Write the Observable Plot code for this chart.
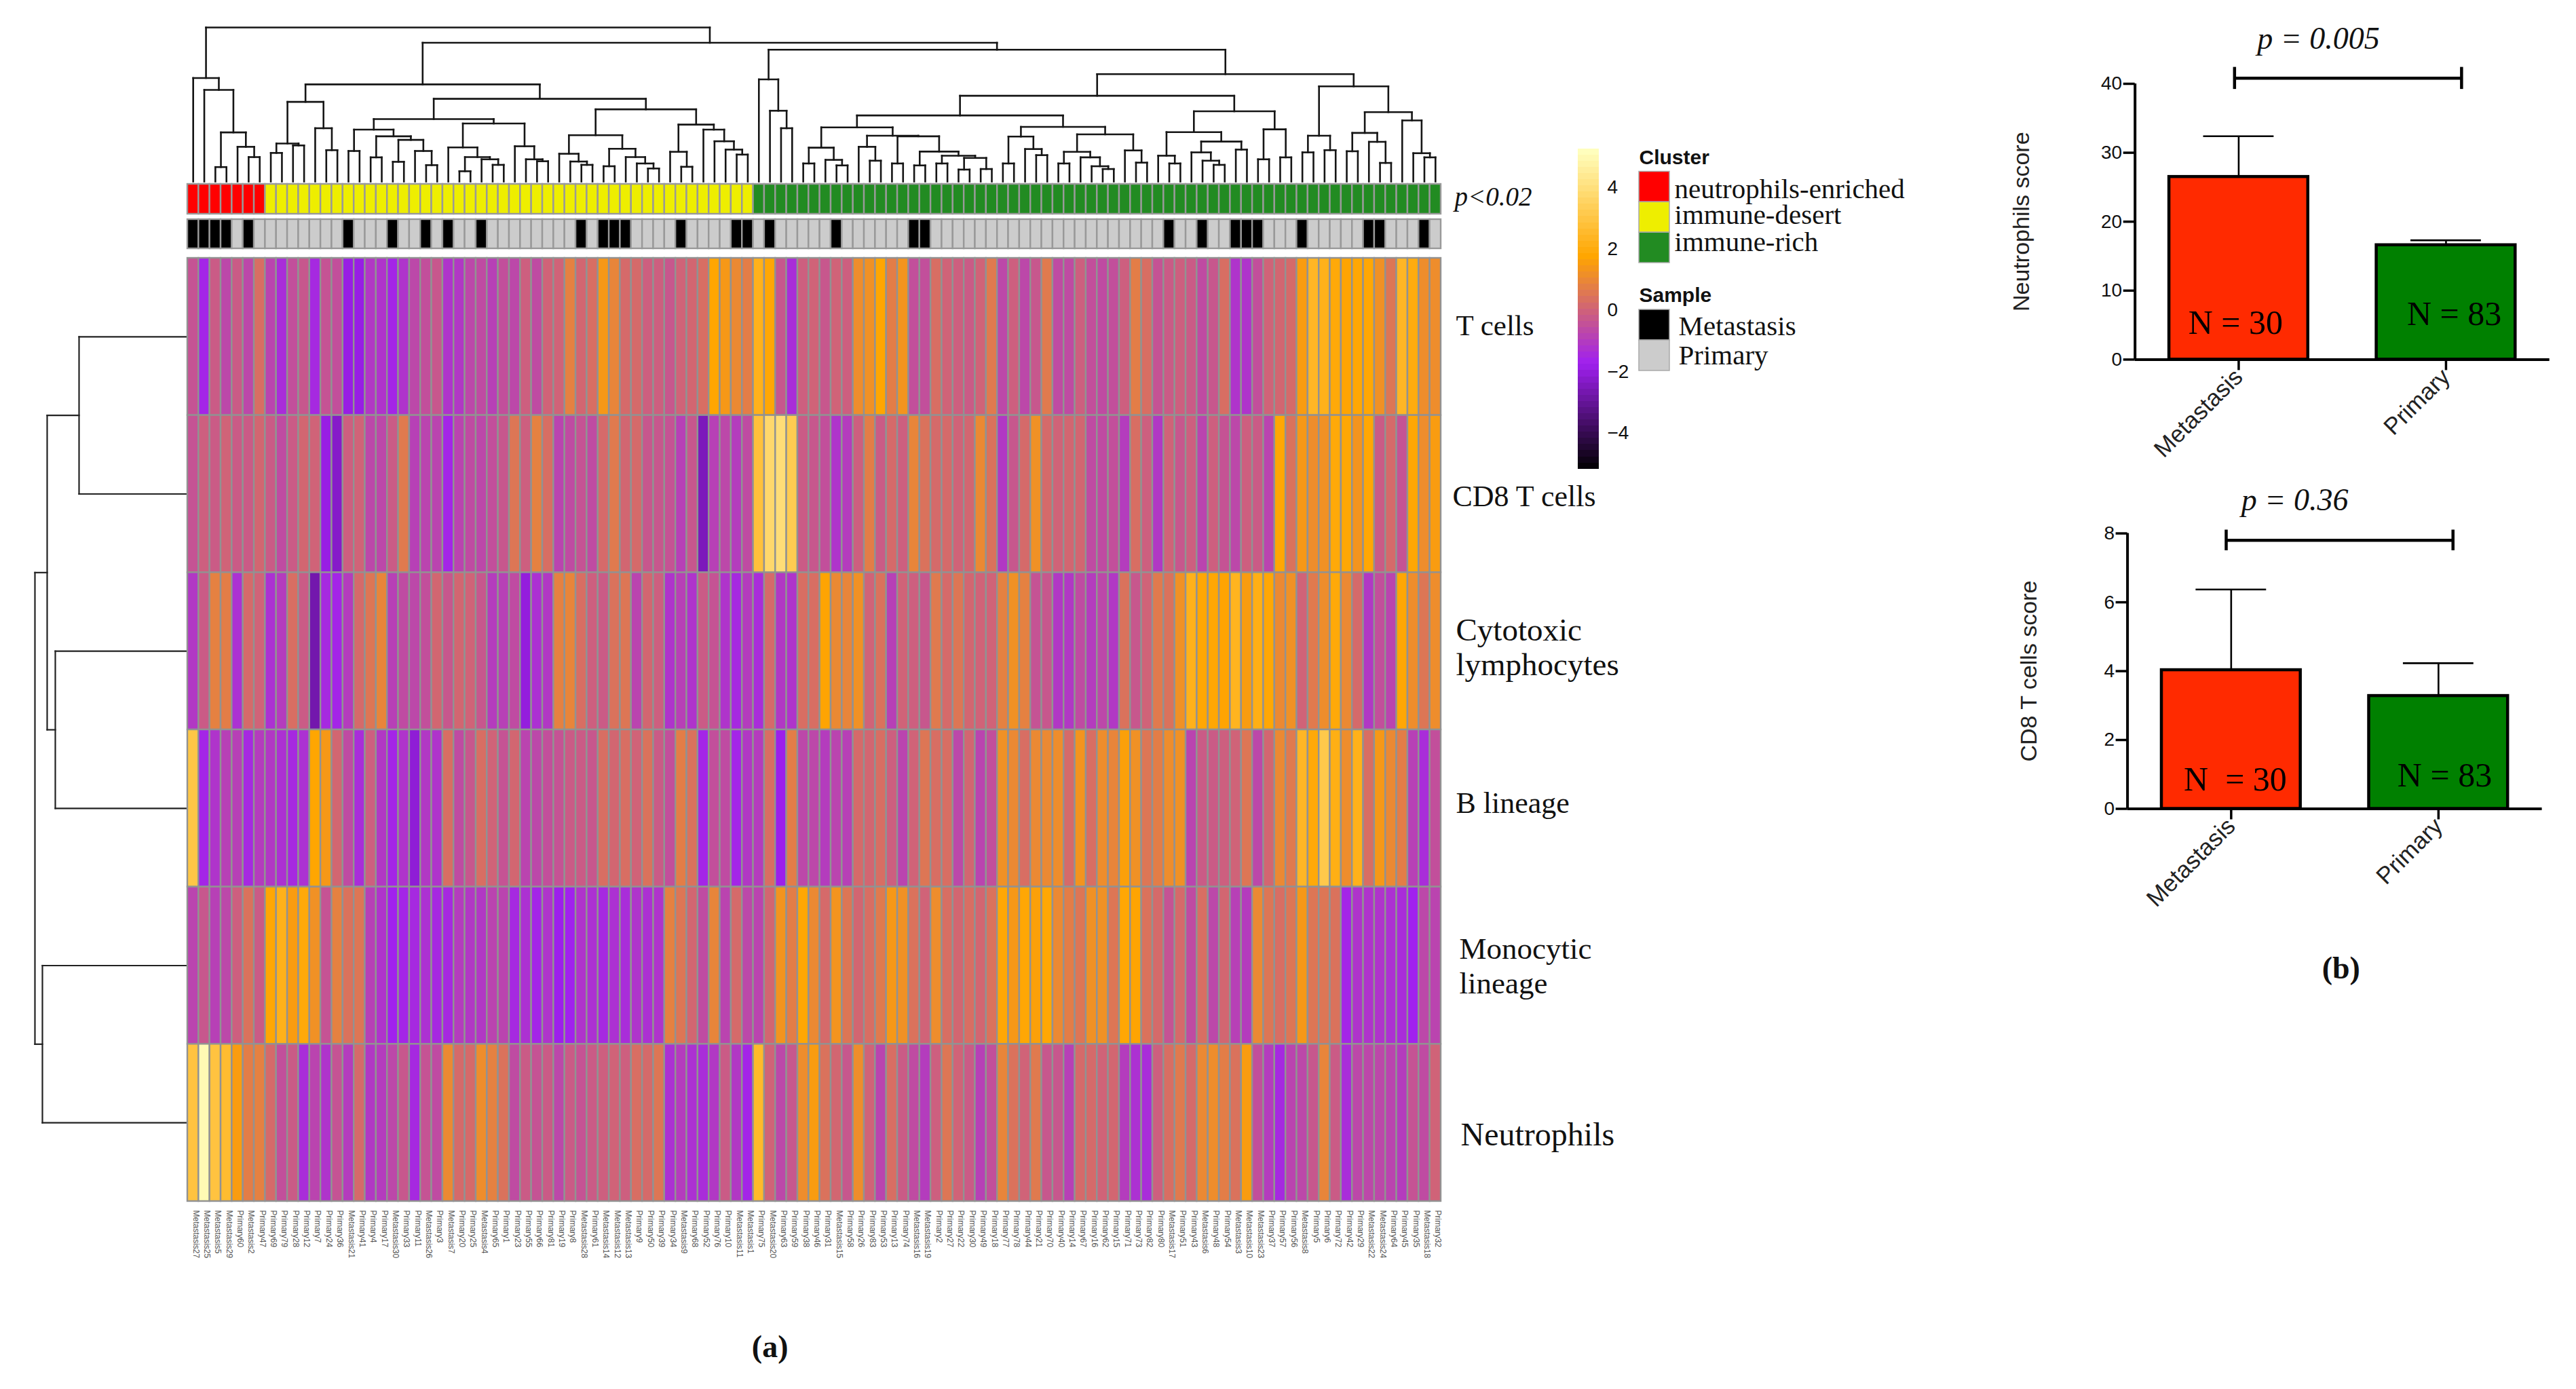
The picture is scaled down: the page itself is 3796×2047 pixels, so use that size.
<!DOCTYPE html>
<html>
<head>
<meta charset="utf-8">
<script src="https://cdn.jsdelivr.net/npm/d3@7"></script>
<script src="https://cdn.jsdelivr.net/npm/@observablehq/plot@0.6"></script>
<style>
html,body{margin:0;padding:0;background:#fff;}
#page{position:relative;width:3796px;height:2047px;overflow:hidden;background:#fff;}
#page svg{position:absolute;left:0;top:0;max-width:none;}
</style>
</head>
<body>
<div id="page"></div>
<script>
const rowNames = ["T cells","CD8 T cells","Cytotoxic lymphocytes","B lineage","Monocytic lineage","Neutrophils"];

const tCells = [-0.4,-1.6,-0.2,-0.7,-0.2,-0.7,0.3,-0.8,-1.4,-0.5,-0.3,-1.5,-0.4,-0.5,-1.9,-1.9,-1.1,-1.2,-1.6,-1.2,-0.7,-0.5,-0.3,-1.2,-1.1,-0.7,-0.6,-0.9,-0.5,-0.7,-0.1,-0.6,0,0,0.8,0.1,0.3,1.4,0.9,0.2,0.2,-0.1,-0.1,-0.3,0,0.1,0.3,1.75,1.4,1,0.7,2.2,1.8,-0.3,-1.4,-0.1,0,-0.3,0,-0.1,1.1,1.2,1.75,0.7,1.3,-0.5,-0.5,0.3,0,-0.1,-0.2,0,0.6,-0.7,-0.1,-0.7,-0.3,0.6,-0.6,-0.6,-0.1,-0.5,-0.6,-0.5,-0.1,0.7,0.3,-0.4,-0.2,-0.1,-0.2,-0.6,-0.3,0.3,-1.2,-1.2,-0.5,0,0.1,0.2,1.5,2.4,2.2,1.9,1.7,1.8,1.8,1.2,0.5,2.4,2,1.1,1.1];
const cd8TCells = [-0.4,-0.1,-0.2,0,-0.2,-0.2,0.1,-0.2,-0.6,-0.2,0.1,0,-1.9,-2.3,-0.1,0,-0.7,-0.7,-0.2,0.6,-0.9,-0.8,-0.8,-1.6,-0.8,-0.6,-0.7,-0.5,-0.3,0.5,-0.1,0.8,0.3,-0.8,-0.6,-0.4,-0.6,0.2,0.6,0.1,0.2,-0.3,-0.3,-0.4,-0.9,-0.3,-2.5,-0.9,-0.7,-1,-0.6,2.8,3.7,3.9,3.2,-0.2,-0.3,-0.5,-1.2,-1,-0.1,0.7,-0.2,0.2,-0.1,0.9,0.4,0.2,0.2,0,0.1,1,0.4,-1.1,-0.3,0.2,1.2,0.2,0,0.1,0.1,-0.6,-0.6,-0.5,-1,0.3,-0.1,-1.1,0,-0.3,-0.1,-0.8,-0.1,-0.4,-0.7,-0.1,-0.2,-0.8,1.8,0.4,1.4,1.1,1.2,1.9,1.8,1.3,1.8,-0.2,0.2,-0.4,1.8,1.1,1.5];
const cytotoxic = [-1.1,-0.2,0.8,0.7,-1.3,0.2,0,-1.3,-1,0.3,-0.2,-2.7,-1.5,-1.6,-1,0.2,0.5,0.9,-0.9,-0.6,-0.7,-0.5,0.1,-0.3,0.1,0,-0.3,-1,-0.9,-0.6,-2,-1.3,-1.1,0.8,0.9,0.3,-0.1,-0.2,0.4,0.5,-0.8,0.1,-0.1,-1.2,-0.9,-1.2,-0.2,-0.4,-1.2,-1.5,-1,-1.4,0.2,-1.1,-1.2,0.3,0.3,1.7,1,0.9,1.2,0,0.4,-0.9,0,-0.1,-0.3,0.6,0.2,0.5,0.1,0,0,0.8,1.2,0.8,-0.4,-0.3,-1.1,-1.1,-0.6,-1,-0.7,-1.1,0.4,-0.3,0,0.6,0.4,1.2,2.2,1.8,1.8,1.7,2.3,1.5,2.1,1.8,1,1.2,0,0.6,1.1,1.9,1,0.2,-1.1,-0.5,-0.8,1.8,1.1,0.5,1.1];
const bLineage = [3,-1.6,-1.2,-0.9,-0.9,-1.5,-1,-1.1,-1.3,-1.5,-1.3,1.75,1.4,0.1,-0.6,-1.4,-0.1,-1.1,-1.6,-1.2,-2.1,-1.1,-1.2,0.3,-0.6,-0.3,0.3,0,-0.4,0.1,-0.8,-0.7,-0.5,-0.4,-0.2,-0.2,-0.3,0.3,0.1,0.3,0,0.4,-0.2,-0.5,0.7,0.4,-1.6,-0.5,-0.6,-1.6,-1.1,-1,0.3,-1.8,0.7,-0.7,-0.7,-1,-0.8,-0.9,0.2,0.1,0.3,-0.1,-0.8,0,0.5,0.3,0.3,-0.7,0.1,-0.8,-0.5,1.2,1,0.3,1,1,1.1,0.2,1.3,0.3,1.1,0.9,1.6,1.2,0.5,0.7,1.1,1.2,-0.8,-0.2,-0.2,-0.1,0,0.5,-0.7,0.1,1,0.6,2.4,1.9,3.1,2.1,1.1,2.2,0.3,1.4,1,0.7,-0.9,-1.4,-0.5];
const monocytic = [-0.8,-0.3,-0.9,-0.7,-0.1,0.4,-0.2,1.8,2.2,1.5,1.9,1.2,-0.4,0.8,0.4,0.5,-0.9,-1.2,-1.7,-1.6,-1.5,-1.3,-1.5,-1.5,-1,-1.1,-1.1,-0.8,-0.8,-1.5,-1.3,-1.6,-1.2,-1.8,-1.7,-1.2,-1.3,-1.5,-1.3,-1.4,-1.2,-1.3,-1.2,0.8,0.5,0.1,-0.6,0.9,-0.8,0.2,-0.7,-0.8,0.1,1.3,0.7,1.8,1,0.2,1.3,0.5,0.1,0.3,0.6,1.4,1.2,0.4,0,1.1,0.3,0.1,0.3,0.1,0.4,1.8,1.4,1.8,1.6,1.8,1,0.7,0.5,1.2,1.2,0.5,1.8,1.7,0.4,0.2,-0.4,0.2,-0.6,0.3,-0.7,0.1,-0.9,-1,1,0.5,0.3,0.5,1.4,0.5,0.5,0.4,-1.6,-1.2,-1.2,-1.2,-1.3,-1.4,-1.7,-0.7,-0.8];
const neutrophils = [2.9,5,2.9,2.6,1.5,0.7,0.8,0.2,-0.5,-0.2,-1.4,-0.8,-1.2,-0.4,-1,0.2,-1.1,-1,-0.7,-0.3,-1.5,-0.4,-0.6,1,0.2,0.2,1.1,0.8,0.4,-0.6,-0.2,-0.4,-0.2,-0.7,-0.2,-0.4,-0.2,-0.1,0,-0.1,0.3,0.2,0.5,-1.3,-1,-1.3,-1.4,-1.1,-0.2,-1.1,-1.6,2.5,0,-0.7,-0.3,1.1,1.5,0.4,0.1,-0.3,1.1,0,-0.8,0.3,-0.2,-0.6,-1,-0.1,0.5,0,-0.2,-0.9,-0.5,0.9,0.4,0,0.6,-0.3,-0.3,-0.9,0.2,0.2,0,0.1,-1,-1.3,-1.4,-0.1,0.3,0.6,0.2,1,1.1,0.7,0.4,1.5,-0.5,-1,-1.5,-0.8,-0.7,-0.3,0.9,-0.2,-1.4,-0.7,-0.7,-0.7,-0.8,-1,-0.4,-0.6,0];

const sampleNames = ["Metastasis27","Metastasis25","Metastasis5","Metastasis29","Primary60","Metastasis2","Primary47","Primary69","Primary79","Primary28","Primary12","Primary7","Primary24","Primary36","Metastasis21","Primary41","Primary4","Primary17","Metastasis30","Primary33","Primary11","Metastasis26","Primary3","Metastasis7","Primary20","Primary25","Metastasis4","Primary65","Primary1","Primary23","Primary55","Primary66","Primary81","Primary19","Primary8","Metastasis28","Primary61","Metastasis14","Metastasis12","Metastasis13","Primary9","Primary50","Primary39","Primary34","Metastasis9","Primary68","Primary52","Primary76","Primary10","Metastasis11","Metastasis1","Primary75","Metastasis20","Primary63","Primary59","Primary38","Primary46","Primary31","Metastasis15","Primary58","Primary26","Primary83","Primary53","Primary13","Primary74","Metastasis16","Metastasis19","Primary2","Primary27","Primary22","Primary30","Primary49","Primary18","Primary77","Primary78","Primary44","Primary21","Primary70","Primary40","Primary14","Primary67","Primary16","Primary62","Primary15","Primary71","Primary73","Primary82","Primary80","Metastasis17","Primary51","Primary43","Metastasis6","Primary48","Primary54","Metastasis3","Metastasis10","Metastasis23","Primary37","Primary57","Primary56","Metastasis8","Primary5","Primary6","Primary72","Primary42","Primary29","Metastasis22","Metastasis24","Primary64","Primary45","Primary35","Metastasis18","Primary32"];

const clusterNames = ["neutrophils-enriched","immune-desert","immune-rich"];
const clusterColors = ["#ff0000","#eeee00","#228b22"];
const clusterSizes = [7,44,62];
const sampleTypes = ["Metastasis","Primary"];
const sampleColors = ["#000000","#cccccc"];

const heatDomain = [-5.2,-1.73,1.73,5.2];
const heatColors = ["#000000","#a020f0","#ffa500","#ffffbf"];
const legendTicks = [4,2,0,-2,-4];

// column tree: [height, left, right], a number is a column
const redTree = [373,0,[330,1,[177,[52,2,3],[125,4,[88,5,6]]]]];
const yellowTree = [350,
  [287,[137,[103,7,8],[130,9,10]],[192,11,[113,12,13]]],
  [298,
    [225,
      [187,[110,14,15],[163,[87,16,17],[150,[71,18,19],[110,20,[59,21,22]]]]],
      [209,[123,23,[88,[37,24,25],[80,26,[60,27,28]]]],[127,29,[80,30,[73,31,32]]]]],
    [260,
      [167,[100,33,[72,34,[60,35,36]]],[118,[55,37,38],[88,39,[65,40,[47,41,42]]]]],
      [205,[107,43,[53,44,45]],[187,46,[145,47,[115,48,[97,49,50]]]]]]]];
const greenTree = [475,
  [368,51,[255,52,[192,53,54]]],
  [387,
    [309,
      [238,
        [195,
          [122,[65,55,56],[78,57,[58,58,59]]],
          [165,[125,60,[75,61,62]],[163,[65,63,64],[108,[58,65,66],[93,[65,67,68],[85,[43,69,70],[45,71,72]]]]]]],
        [197,
          [162,[65,73,74],[117,75,[95,76,77]]],
          [170,[107,[65,78,79],[87,80,[55,81,[45,82,83]]]],[112,84,[68,85,86]]]]],
      [253,
        [178,[93,87,[65,88,89]],[144,[105,90,[75,91,[60,92,93]]],[115,94,95]]],
        [188,[80,96,97],[87,98,99]]]],
    [343,
      [165,[105,100,101],[113,102,103]],
      [250,[175,[109,104,105],[143,106,[67,107,108]]],[220,109,[102,110,[87,111,112]]]]]]];
const columnTree = [555,redTree,[500,yellowTree,greenTree]];
const rowTree = [224,[206,[159,0,1],[194,2,3]],[213,4,5]];

const barCategories = ["Metastasis","Primary"];
const barColors = ["#ff2a00","#008000"];
const neutrophilMeans = [26.5,16.6];
const neutrophilTops = [32.4,17.3];
const cd8Means = [4.03,3.28];
const cd8Tops = [6.37,4.23];

// ---------- shared ----------
const W = 3796, H = 2047;
const serif = "'Liberation Serif', serif";
const sans = "'Liberation Sans', Arial, sans-serif";
const ink = "#111";
const page = document.getElementById("page");
const frame = (l,t,r,b) => ({width:W,height:H,marginLeft:l,marginTop:t,marginRight:W-r,marginBottom:H-b,style:{background:"transparent"}});

function treeLinks(node){
  const links = [];
  (function walk(n){
    if (typeof n === "number") return {pos:n+0.5,h:0};
    const a = walk(n[1]), b = walk(n[2]), h = n[0];
    links.push({p1:a.pos,h1:a.h,p2:a.pos,h2:h});
    links.push({p1:b.pos,h1:b.h,p2:b.pos,h2:h});
    links.push({p1:a.pos,h1:h,p2:b.pos,h2:h});
    return {pos:(a.pos+b.pos)/2,h};
  })(node);
  return links;
}

const colIndex = d3.range(sampleNames.length);
const heatRows = [tCells,cd8TCells,cytotoxic,bLineage,monocytic,neutrophils];
const heatCells = heatRows.flatMap((vals,r)=>vals.map((v,c)=>({row:rowNames[r],col:c,value:v})));
const clusterOf = clusterSizes.flatMap((n,k)=>d3.range(n).map(()=>clusterNames[k]));

// ---------- column dendrogram ----------
page.append(Plot.plot({
  ...frame(276,40,2123,267),
  x:{domain:[0,113],axis:null},
  y:{domain:[0,555],axis:null},
  marks:[Plot.link(treeLinks(columnTree),{x1:"p1",y1:"h1",x2:"p2",y2:"h2",stroke:"#151515",strokeWidth:2.6,strokeLinecap:"square"})]
}));

// ---------- row dendrogram ----------
page.append(Plot.plot({
  ...frame(51,380,275,1770),
  x:{domain:[224,0],axis:null},
  y:{domain:[6,0],axis:null},
  marks:[Plot.link(treeLinks(rowTree),{x1:"h1",y1:"p1",x2:"h2",y2:"p2",stroke:"#222",strokeWidth:2.2,strokeLinecap:"square"})]
}));

// ---------- cluster annotation bar ----------
page.append(Plot.plot({
  ...frame(276,271,2123,315),
  x:{type:"band",domain:colIndex,padding:0,round:false,axis:null},
  color:{domain:clusterNames,range:clusterColors},
  marks:[
    Plot.cell(colIndex,{x:d=>d,fill:d=>clusterOf[d],stroke:"#999",strokeWidth:2.4,inset:0}),
    Plot.text(["p<0.02"],{frameAnchor:"right",dx:20,dy:-3,textAnchor:"start",fontFamily:serif,fontStyle:"italic",fontSize:39,fill:ink})
  ]
}));

// ---------- sample annotation bar ----------
page.append(Plot.plot({
  ...frame(276,323,2123,366),
  x:{type:"band",domain:colIndex,padding:0,round:false,axis:null},
  color:{domain:sampleTypes,range:sampleColors},
  marks:[Plot.cell(colIndex,{x:d=>d,fill:d=>sampleNames[d].startsWith("Met")?"Metastasis":"Primary",stroke:"#999",strokeWidth:2.4,inset:0})]
}));

// ---------- heatmap ----------
const rowLabels = [
  {row:rowNames[0],text:"T cells",dx:22,dy:-19,size:43},
  {row:rowNames[1],text:"CD8 T cells",dx:17,dy:2,size:44},
  {row:rowNames[2],text:"Cytotoxic\nlymphocytes",dx:22,dy:-6,size:47},
  {row:rowNames[3],text:"B lineage",dx:22,dy:-10,size:44},
  {row:rowNames[4],text:"Monocytic\nlineage",dx:27,dy:-1,size:45},
  {row:rowNames[5],text:"Neutrophils",dx:29,dy:17,size:48}
];
page.append(Plot.plot({
  ...frame(276,380,2123,1770),
  x:{type:"band",domain:colIndex,padding:0,round:false,axis:null},
  y:{type:"band",domain:rowNames,padding:0,round:false,axis:null},
  color:{type:"linear",domain:heatDomain,range:heatColors},
  marks:[
    Plot.cell(heatCells,{x:"col",y:"row",fill:"value",stroke:"#929292",strokeWidth:2.4,inset:0}),
    Plot.text(colIndex,{x:d=>d,text:d=>sampleNames[d],frameAnchor:"bottom",dy:13,rotate:90,textAnchor:"start",fontFamily:sans,fontSize:12,fill:"#555"}),
    ...rowLabels.map(l=>Plot.text([l],{y:"row",text:"text",frameAnchor:"right",dx:l.dx,dy:l.dy,textAnchor:"start",lineHeight:51/l.size,fontFamily:serif,fontSize:l.size,fill:ink})),
    Plot.text(["(a)"],{x:()=>52,frameAnchor:"bottom",dy:229,fontFamily:serif,fontWeight:"bold",fontSize:46,fill:ink})
  ]
}));

// ---------- colour legend ----------
const legendDomain = [-5.17,5.26];
const legendStep = (legendDomain[1]-legendDomain[0])/52;
const legendBands = d3.range(52).map(i=>legendDomain[0]+i*legendStep);
page.append(Plot.plot({
  ...frame(2324.5,218.6,2356,690.7),
  y:{domain:legendDomain,axis:null},
  color:{type:"linear",domain:heatDomain,range:heatColors},
  marks:[
    Plot.rect(legendBands,{y1:d=>d,y2:d=>d+legendStep,fill:d=>d+legendStep/2,shapeRendering:"crispEdges"}),
    Plot.text(legendTicks,{y:d=>d,text:d=>d<0?"\u2212"+(-d):String(d),frameAnchor:"right",dx:12,textAnchor:"start",fontFamily:sans,fontSize:28,fill:ink})
  ]
}));

// ---------- cluster / sample legends ----------
function swatches(title,names,colors,t,b,labelDx,labelDy,titleDy){
  return Plot.plot({
    ...frame(2415,t,2460,b),
    y:{type:"band",domain:names,padding:0,round:false,axis:null},
    color:{domain:names,range:colors},
    marks:[
      Plot.cell(names,{y:d=>d,fill:d=>d,stroke:"#aaa",strokeWidth:1.5,inset:0}),
      Plot.text([title],{frameAnchor:"top-left",lineAnchor:"middle",dy:titleDy,textAnchor:"start",fontFamily:sans,fontWeight:"bold",fontSize:30,fill:ink}),
      ...names.map((n,i)=>Plot.text([n],{y:d=>d,frameAnchor:"right",dx:labelDx,dy:labelDy[i],textAnchor:"start",fontFamily:serif,fontSize:41,fill:ink}))
    ]
  });
}
page.append(swatches("Cluster",clusterNames,clusterColors,252.5,387,7,[3,-3,-8.5],-20.5));
page.append(swatches("Sample",sampleTypes,sampleColors,456,546,13,[2,0],-21));

// ---------- bar panels ----------
function barPanel(o){
  const rows = barCategories.map((c,i)=>({cat:c,i,mean:o.means[i],top:o.tops[i]}));
  return Plot.plot({
    ...frame(o.axisX,o.yTop,o.axisX+611,o.yBottom),
    x:{domain:[-0.5,1.5]},
    y:{domain:[0,o.yMax]},
    color:{domain:barCategories,range:barColors},
    marks:[
      Plot.ruleX(rows,{x:"i",y1:"mean",y2:"top",stroke:"#000",strokeWidth:2.6}),
      Plot.ruleY(rows,{y:"top",x1:d=>d.i-0.17,x2:d=>d.i+0.17,stroke:"#000",strokeWidth:2.6}),
      Plot.rect(rows,{x1:d=>d.i-0.335,x2:d=>d.i+0.335,y1:0,y2:"mean",fill:"cat",stroke:"#000",strokeWidth:4.5}),
      Plot.ruleY([0],{stroke:"#000",strokeWidth:4}),
      Plot.ruleX([-0.5],{stroke:"#000",strokeWidth:4}),
      Plot.axisY({ticks:o.ticks,tickSize:17,tickPadding:2,fontSize:28,fontFamily:sans,strokeWidth:3.5,stroke:"#000",fill:ink,label:null}),
      Plot.axisX({ticks:[0,1],tickFormat:d=>barCategories[d],tickRotate:-45,tickSize:16,tickPadding:4,fontSize:35,fontFamily:sans,strokeWidth:3.5,stroke:"#000",fill:"#222",label:null}),
      Plot.text([o.yLabel],{frameAnchor:"left",dx:o.labelDx,rotate:-90,textAnchor:"middle",fontFamily:sans,fontSize:34,fill:"#222"}),
      Plot.ruleY([o.bracketY],{x1:o.bracket[0],x2:o.bracket[1],stroke:"#000",strokeWidth:4.5}),
      Plot.ruleX(o.bracket,{y1:o.bracketY-o.capLen,y2:o.bracketY+o.capLen,stroke:"#000",strokeWidth:4.5}),
      Plot.text([o.pText],{x:()=>o.pPos[0],y:()=>o.pPos[1],fontFamily:serif,fontStyle:"italic",fontSize:46,fill:ink}),
      ...o.nLabels.map(l=>Plot.text([l.text],{x:()=>l.x,y:()=>l.y,fontFamily:serif,fontSize:50,fill:"#000"})),
      ...(o.extra||[])
    ]
  });
}
page.append(barPanel({
  axisX:3145.7,yTop:123,yBottom:529.4,yMax:40,ticks:[0,10,20,30,40],
  means:neutrophilMeans,tops:neutrophilTops,
  yLabel:"Neutrophils score",labelDx:-167,
  bracket:[-0.02,1.075],bracketY:40.8,capLen:1.6,
  pText:"p = 0.005",pPos:[0.385,46.5],
  nLabels:[{text:"N = 30",x:-0.015,y:5.35},{text:"N = 83",x:1.04,y:6.6}]
}));
page.append(barPanel({
  axisX:3134.6,yTop:785.6,yBottom:1191.5,yMax:8,ticks:[0,2,4,6,8],
  means:cd8Means,tops:cd8Tops,
  yLabel:"CD8 T cells score",labelDx:-145,
  bracket:[-0.024,1.07],bracketY:7.8,capLen:0.3,
  pText:"p = 0.36",pPos:[0.307,8.96],
  nLabels:[{text:"N\u00a0 = 30",x:0.02,y:0.85},{text:"N = 83",x:1.03,y:0.96}],
  extra:[Plot.text(["(b)"],{x:()=>0.53,y:()=>-4.64,fontFamily:serif,fontWeight:"bold",fontSize:46,fill:ink})]
}));
</script>
</body>
</html>
